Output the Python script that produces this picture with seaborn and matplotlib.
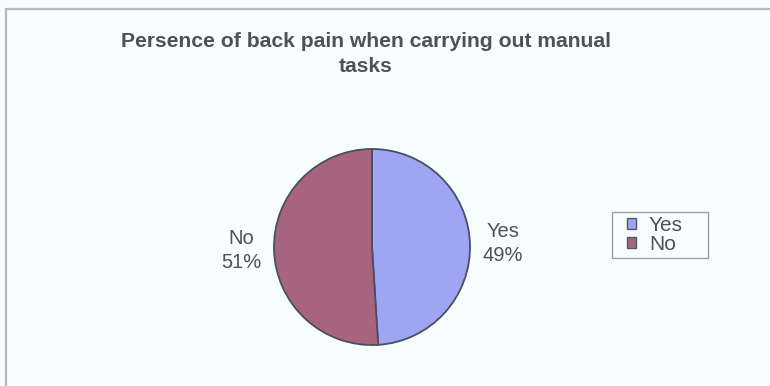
import matplotlib
matplotlib.use("Agg")
import matplotlib.pyplot as plt
from matplotlib.lines import Line2D
from matplotlib.patches import Patch, Rectangle
import seaborn as sns
import pandas as pd

categories = ["Yes", "No"]
percentages = [49, 51]
title = "Persence of back pain when carrying out manual\ntasks"

sns.set_style("white")
plt.rcParams['font.family'] = ['Liberation Sans', 'DejaVu Sans']

df = pd.DataFrame({"answer": categories, "pct": percentages})
colors = ["#9ea5f3", "#a8637f"]
bg = "#f6fdfd"
txt = "#4f5157"

W, H = 770, 386
fig = plt.figure(figsize=(W / 100, H / 100), dpi=100)
fig.patch.set_facecolor(bg)

# frame (top and left visible)
fig.add_artist(Line2D([6 / W, 6 / W], [0, 1 - 9 / H], color="#b4b8c4", lw=1.6))
fig.add_artist(Line2D([6 / W, 1], [1 - 9 / H, 1 - 9 / H], color="#b4b8c4", lw=1.6))

fig.text(366 / W, 1 - 54 / H, title, ha="center", va="center", fontsize=15.2,
         fontweight="bold", color=txt, linespacing=1.45)

cx, cy, r = 372, 247, 99
ax = fig.add_axes([(cx - r) / W, 1 - (cy + r) / H, 2 * r / W, 2 * r / H])
ax.set_facecolor(bg)
labels = [f"{a}\n{p}%" for a, p in zip(df["answer"], df["pct"])]
wedges, texts = ax.pie(df["pct"], colors=colors, startangle=90, counterclock=False,
                       labels=labels, labeldistance=1.13,
                       wedgeprops=dict(edgecolor="#4a4e60", linewidth=1.3),
                       textprops=dict(fontsize=14.5, color=txt))
for t in texts:
    t.set_multialignment("center")
    t.set_linespacing(1.3)
ax.set_xlim(-1.01, 1.01)
ax.set_ylim(-1.01, 1.01)
ax.set_aspect("equal")
ax.axis("off")

# legend box
fig.add_artist(Rectangle((612 / W, 1 - 258 / H), 96 / W, 46 / H, transform=fig.transFigure,
                         facecolor=bg, edgecolor="#9a9ea8", linewidth=1.0, zorder=1))
handles = [Patch(facecolor=c, edgecolor="#555a66", linewidth=1.0) for c in colors]
leg = fig.legend(handles, categories, loc="center left", bbox_to_anchor=(627 / W, 1 - 235 / H),
                 frameon=False, fontsize=15, handlelength=0.45, handleheight=0.45,
                 handletextpad=0.6, borderpad=0.0, labelspacing=0.0,
                 borderaxespad=0)
leg.set_zorder(2)
for t in leg.get_texts():
    t.set_color(txt)

fig.savefig("out.png", dpi=100, facecolor=bg)
